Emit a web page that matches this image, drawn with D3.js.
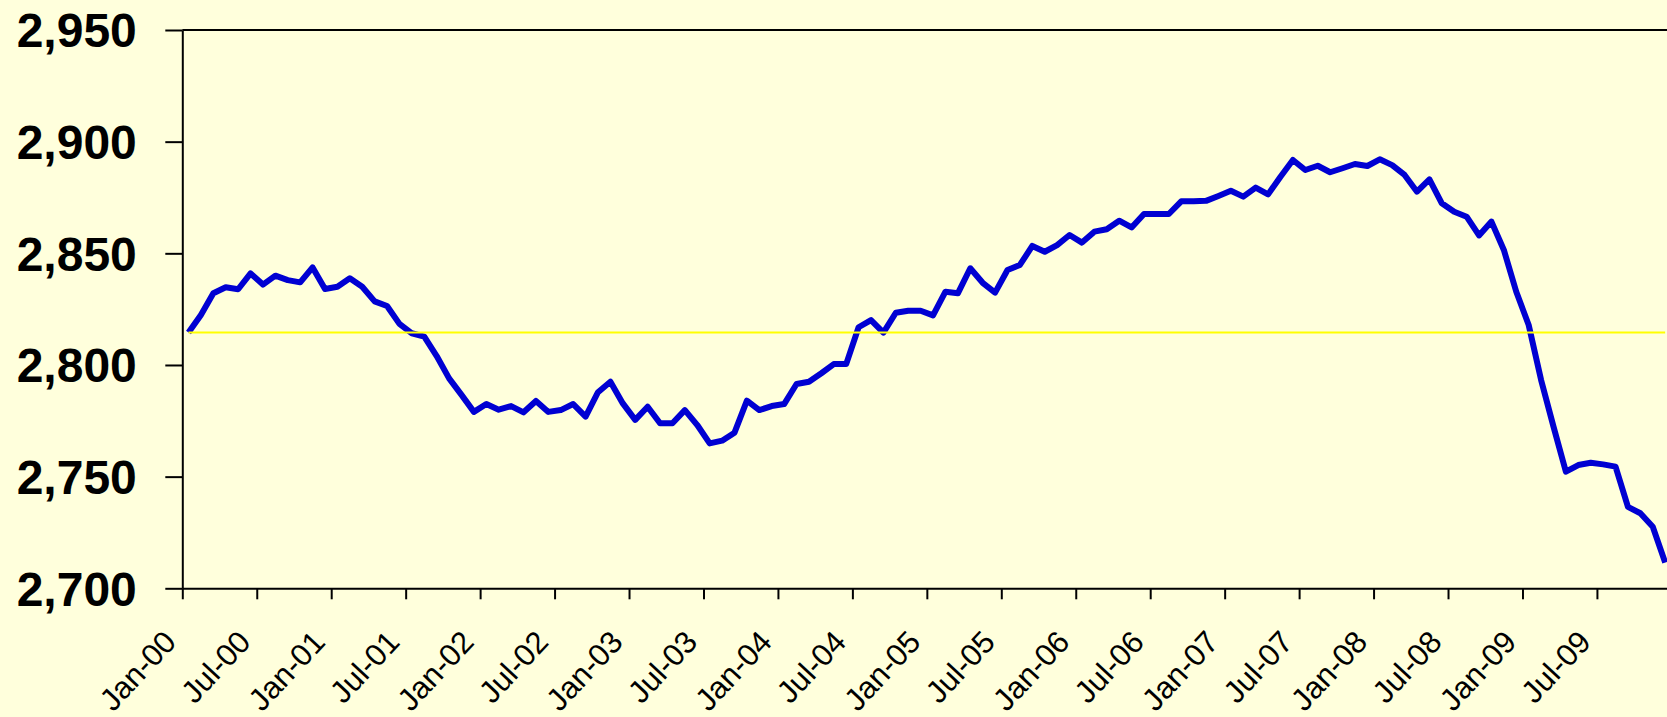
<!DOCTYPE html>
<html>
<head>
<meta charset="utf-8">
<script src="https://cdn.jsdelivr.net/npm/d3@7"></script>
<style>
    body { margin: 0; background: #ffffdc; }
    svg { display: block; }
    .axis path, .axis line { stroke: #000; stroke-width: 2; }
    .axis text { fill: #000; font-family: "Liberation Sans", Arial, sans-serif; }
    .y-axis text { font-size: 48px; font-weight: bold; }
    .x-axis text { font-size: 31px; }
</style>
</head>
<body>
<script>
// Set chart dimensions
const width = 1667;
const height = 717;
const margin = { top: 30, left: 182.3, bottom: 128.7 };
const monthWidth = 12.409;

// Monthly values, Jan-00 to Dec-09
const values = [
    2814.5, 2822.4, 2832.1, 2834.8, 2833.9, 2841.0, 2836.0, 2840.0, 2838.0, 2837.0, 2843.7, 2834.0,
    2835.0, 2838.8, 2835.0, 2828.5, 2826.4, 2818.4, 2814.2, 2812.7, 2804.0, 2794.0, 2786.6, 2779.0,
    2782.5, 2780.0, 2781.6, 2778.8, 2783.9, 2779.0, 2779.8, 2782.5, 2776.9, 2787.8, 2792.5, 2782.8,
    2775.4, 2781.3, 2773.9, 2773.9, 2779.8, 2773.1, 2764.9, 2766.1, 2769.7, 2784.0, 2779.8, 2781.6,
    2782.5, 2791.5, 2792.5, 2796.3, 2800.4, 2800.4, 2816.9, 2820.1, 2814.5, 2823.4, 2824.3, 2824.3,
    2822.2, 2832.8, 2832.1, 2843.3, 2836.8, 2832.4, 2842.5, 2844.8, 2853.3, 2850.7, 2853.7, 2858.2,
    2854.8, 2859.7, 2860.8, 2864.6, 2861.6, 2867.6, 2867.6, 2867.6, 2873.3, 2873.3, 2873.5, 2875.7,
    2878.0, 2875.4, 2879.4, 2876.4, 2884.3, 2891.8, 2887.3, 2889.2, 2886.3, 2888.1, 2890.0, 2889.1,
    2892.1, 2889.5, 2885.1, 2877.6, 2883.1, 2872.4, 2868.6, 2866.4, 2858.0, 2864.2, 2851.5, 2832.8,
    2817.9, 2793.3, 2772.4, 2752.2, 2755.2, 2756.2, 2755.5, 2754.5, 2736.5, 2733.6, 2727.6, 2711.5
];

// Horizontal reference level (starting value)
const referenceLevel = 2814.5;

// Axis tick values and labels
const yTicks = [2700, 2750, 2800, 2850, 2900, 2950];
const xTickLabels = [
    "Jan-00", "Jul-00", "Jan-01", "Jul-01", "Jan-02", "Jul-02", "Jan-03", "Jul-03", "Jan-04", "Jul-04",
    "Jan-05", "Jul-05", "Jan-06", "Jul-06", "Jan-07", "Jul-07", "Jan-08", "Jul-08", "Jan-09", "Jul-09"
];

// Create the SVG container
const svg = d3.select("body")
    .append("svg")
    .attr("width", width)
    .attr("height", height);

// Scales: one slot per month, points at slot centres
const xScale = d3.scaleLinear()
    .domain([0, values.length])
    .range([margin.left, margin.left + values.length * monthWidth]);

const yScale = d3.scaleLinear()
    .domain([2700, 2950])
    .range([height - margin.bottom, margin.top]);

// Top border of the plot area
svg.append("line")
    .attr("x1", xScale.range()[0])
    .attr("x2", xScale.range()[1])
    .attr("y1", yScale(2950))
    .attr("y2", yScale(2950))
    .attr("stroke", "#000")
    .attr("stroke-width", 2);

// Add the y-axis
svg.append("g")
    .attr("class", "axis y-axis")
    .attr("transform", `translate(${margin.left}, 0)`)
    .call(d3.axisLeft(yScale)
        .tickValues(yTicks)
        .tickFormat(d3.format(","))
        .tickSize(17)
        .tickSizeOuter(0)
        .tickPadding(28.5))
    .selectAll("text")
    .attr("dy", "0.35em");

// Add the x-axis, ticks every six months
const xAxis = svg.append("g")
    .attr("class", "axis x-axis")
    .attr("transform", `translate(0, ${yScale(2700)})`)
    .call(d3.axisBottom(xScale)
        .tickValues(xTickLabels.map((d, i) => i * 6))
        .tickFormat((d, i) => xTickLabels[i])
        .tickSize(11)
        .tickSizeOuter(0));

xAxis.selectAll("text")
    .attr("x", 0)
    .attr("y", 0)
    .attr("dy", null)
    .attr("text-anchor", "end")
    .attr("transform", "translate(-5, 55) rotate(-47)");

// Draw the data line
const line = d3.line()
    .x((d, i) => xScale(i + 0.5))
    .y(d => yScale(d));

svg.append("path")
    .datum(values)
    .attr("fill", "none")
    .attr("stroke", "#0000d2")
    .attr("stroke-width", 6)
    .attr("stroke-linejoin", "round")
    .attr("d", line);

// Draw the reference level across the whole series
svg.append("line")
    .attr("x1", xScale(0.5))
    .attr("x2", xScale(values.length - 0.5))
    .attr("y1", yScale(referenceLevel))
    .attr("y2", yScale(referenceLevel))
    .attr("stroke", "#ffff00")
    .attr("stroke-width", 2);
</script>
</body>
</html>
